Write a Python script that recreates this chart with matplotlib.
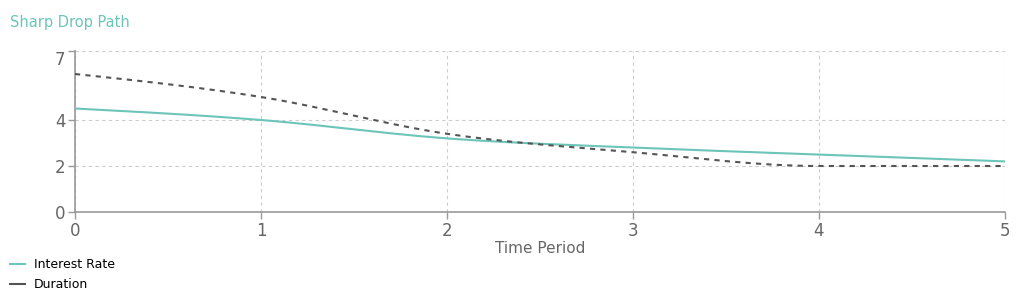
import numpy as np
import matplotlib.pyplot as plt
from matplotlib.lines import Line2D

# ─────────────────────────────────────────────────────────────
# Data
# ─────────────────────────────────────────────────────────────
periods       = [0, 1, 2, 3, 4, 5]
interest_rate = [4.5, 4.0, 3.2, 2.8, 2.5, 2.2]
duration      = [6.0, 5.0, 3.4, 2.6, 2.0, 2.0]
y_ticks       = [0, 2, 4, 7]

TEAL = '#6cc5b9'
DARK = '#555555'
TEXT = '#666666'


def monotone_x(x, y, n=40):
	"""Monotone cubic (Fritsch-Carlson) path through the points, like a 'monotone' line renderer."""
	x = np.asarray(x, float)
	y = np.asarray(y, float)
	h = np.diff(x)
	s = np.diff(y) / h
	m = np.zeros_like(y)
	for i in range(1, len(y) - 1):
		if s[i - 1] * s[i] <= 0:
			m[i] = 0.0
		else:
			m[i] = (np.sign(s[i - 1]) + np.sign(s[i])) * min(abs(s[i - 1]), abs(s[i]),
				0.5 * abs((h[i - 1] * s[i] + h[i] * s[i - 1]) / (h[i - 1] + h[i])))
	# end tangents as in d3 curveMonotoneX
	m[0] = (3 * s[0] - m[1]) / 2
	m[-1] = (3 * s[-1] - m[-2]) / 2
	xs, ys = [], []
	for i in range(len(h)):
		t = np.linspace(0, 1, n)
		h00 = 2 * t**3 - 3 * t**2 + 1
		h10 = t**3 - 2 * t**2 + t
		h01 = -2 * t**3 + 3 * t**2
		h11 = t**3 - t**2
		xs.append(x[i] + t * h[i])
		ys.append(h00 * y[i] + h10 * h[i] * m[i] + h01 * y[i + 1] + h11 * h[i] * m[i + 1])
	return np.concatenate(xs), np.concatenate(ys)


fig = plt.figure(figsize=(10.2, 3.04), dpi=100)
ax = fig.add_axes([75 / 1020, 92 / 304, 930 / 1020, 161 / 304])

xi, yi = monotone_x(periods, interest_rate)
ax.plot(xi, yi, color=TEAL, lw=1.5, solid_capstyle='butt', zorder=3)
xd, yd = monotone_x(periods, duration)
ax.plot(xd, yd, color=DARK, lw=1.5, dashes=(2.5, 2.5), zorder=3)

ax.set_xlim(0, 5)
ax.set_ylim(0, 7)
ax.set_xticks(periods)
ax.set_yticks(y_ticks)
ax.set_yticklabels([str(v) for v in y_ticks])
ax.grid(True, color='#cccccc', lw=0.8, dashes=(3, 3))
ax.set_axisbelow(True)

for side in ('top', 'right'):
	ax.spines[side].set_visible(False)
for side in ('left', 'bottom'):
	ax.spines[side].set_color('#999999')
	ax.spines[side].set_linewidth(1.2)

ax.tick_params(colors='#999999', labelcolor=TEXT, labelsize=12, length=5, width=1, pad=2)
# top y label sits just below its gridline
ax.get_yticklabels()[-1].set_verticalalignment('top')

ax.set_xlabel('Time Period', color=TEXT, fontsize=11, labelpad=1)

fig.text(10 / 1020, 1 - 22 / 304, 'Sharp Drop Path', color=TEAL, fontsize=10.5,
		 va='center', ha='left')

handles = [Line2D([], [], color=TEAL, lw=1.5),
		   Line2D([], [], color=DARK, lw=1.5)]
fig.legend(handles, ['Interest Rate', 'Duration'], loc='upper left',
		   bbox_to_anchor=(5 / 1020, 1 - 253 / 304), frameon=False, fontsize=9,
		   handlelength=1.2, handletextpad=0.7, labelspacing=0.6,
		   borderaxespad=0.0, borderpad=0.4)

plt.savefig('out.png', dpi=100)
